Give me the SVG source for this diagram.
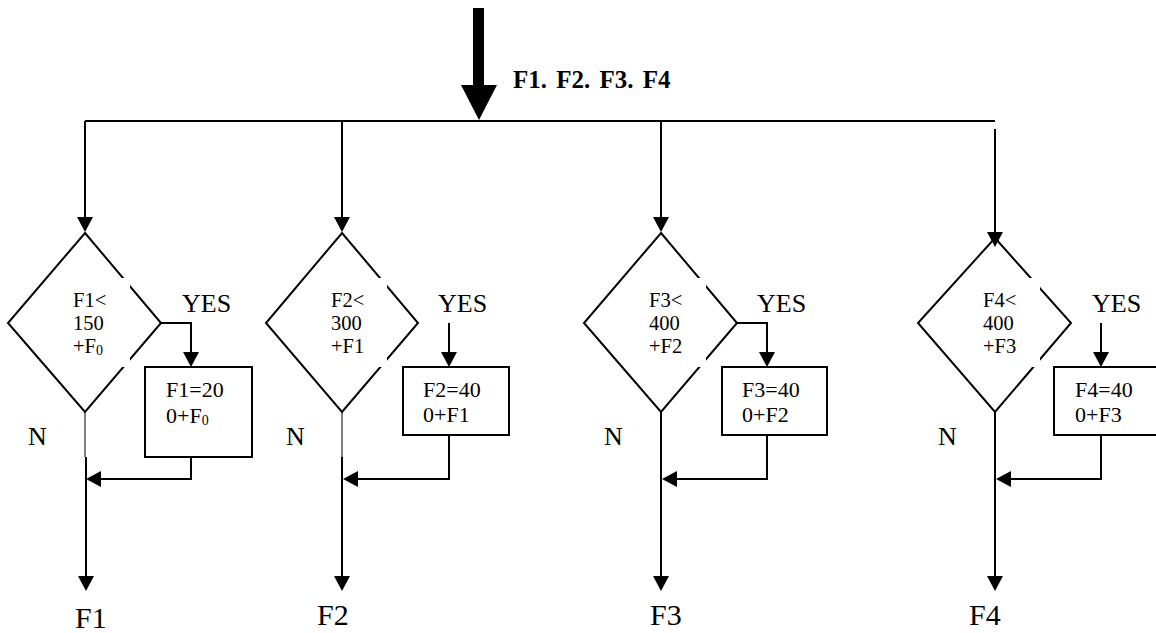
<svg xmlns="http://www.w3.org/2000/svg" width="1156" height="633" viewBox="0 0 1156 633">
  <style>
    .ln { fill: none; stroke: #000; stroke-width: 2; }
    .thin { fill: none; stroke: #000; stroke-width: 1; }
    .arr { marker-end: url(#head); }
    .shape { fill: #fff; stroke: #000; stroke-width: 2; }
    .mask { fill: #fff; stroke: none; }
    text { font-family: "Liberation Serif", "Times New Roman", serif; fill: #000; }
    .cond { font-size: 20.5px; }
    .box { font-size: 22px; }
    .lbl { font-size: 26px; }
    .out { font-size: 30px; }
    .title { font-size: 25px; font-weight: bold; word-spacing: 3px; }
  </style>
  <defs>
    <marker id="head" markerUnits="userSpaceOnUse" viewBox="0 0 15 16" markerWidth="15" markerHeight="16" refX="13" refY="8" orient="auto">
      <path d="M0,0 L15,8 L0,16 z" fill="#000"/>
    </marker>
  </defs>

  <rect width="1156" height="633" fill="#fff"/>

  <!-- input arrow and label -->
  <g id="input">
    <polygon points="473,8 484,8 484,85 497,85 479,120 461,85 473,85" fill="#000"/>
    <text class="title" x="513" y="88">F1. F2. F3. F4</text>
  </g>

  <!-- decision diamonds (white text panel trims the right edges) -->
  <g id="dec1">
    <polygon class="shape" points="85,233 161,323 85,412 8,323"/>
    <rect class="mask" x="60" y="278" width="70" height="89"/>
    <text class="cond" x="73" y="307">F1&lt;<tspan x="73" dy="23">150</tspan><tspan x="73" dy="23">+F</tspan><tspan font-size="14" dy="2">0</tspan></text>
  </g>
  <g id="dec2">
    <polygon class="shape" points="342,233 418,323 342,412 266,323"/>
    <rect class="mask" x="317" y="278" width="70" height="89"/>
    <text class="cond" x="331" y="307">F2&lt;<tspan x="331" dy="23">300</tspan><tspan x="331" dy="23">+F1</tspan></text>
  </g>
  <g id="dec3">
    <polygon class="shape" points="661,233 737,323 661,412 584,323"/>
    <rect class="mask" x="636" y="278" width="70" height="89"/>
    <text class="cond" x="649" y="307">F3&lt;<tspan x="649" dy="23">400</tspan><tspan x="649" dy="23">+F2</tspan></text>
  </g>
  <g id="dec4">
    <polygon class="shape" points="995,238 1071,323 995,412 918,323"/>
    <rect class="mask" x="970" y="278" width="70" height="89"/>
    <text class="cond" x="983" y="307">F4&lt;<tspan x="983" dy="23">400</tspan><tspan x="983" dy="23">+F3</tspan></text>
  </g>

  <!-- assignment boxes -->
  <g id="box1">
    <rect class="shape" x="145" y="367" width="107" height="90"/>
    <text class="box" x="166" y="397">F1=20<tspan x="166" dy="26">0+F</tspan><tspan font-size="14" dy="2">0</tspan></text>
  </g>
  <g id="box2">
    <rect class="shape" x="403" y="367" width="106" height="68"/>
    <text class="box" x="423" y="397">F2=40<tspan x="423" dy="25">0+F1</tspan></text>
  </g>
  <g id="box3">
    <rect class="shape" x="722" y="367" width="105" height="68"/>
    <text class="box" x="742" y="397">F3=40<tspan x="742" dy="25">0+F2</tspan></text>
  </g>
  <g id="box4">
    <rect class="shape" x="1054" y="367" width="110" height="68"/>
    <text class="box" x="1075" y="397">F4=40<tspan x="1075" dy="25">0+F3</tspan></text>
  </g>

  <!-- branch labels -->
  <g id="labels">
    <text class="lbl" x="182" y="312">YES</text>
    <text class="lbl" x="438" y="312">YES</text>
    <text class="lbl" x="757" y="312">YES</text>
    <text class="lbl" x="1092" y="312">YES</text>
    <text class="lbl" x="28" y="445">N</text>
    <text class="lbl" x="286" y="445">N</text>
    <text class="lbl" x="604" y="445">N</text>
    <text class="lbl" x="938" y="445">N</text>
  </g>

  <!-- outputs -->
  <g id="outputs">
    <text class="out" x="75" y="628">F1</text>
    <text class="out" x="317" y="625">F2</text>
    <text class="out" x="650" y="625">F3</text>
    <text class="out" x="969" y="625">F4</text>
  </g>

  <!-- connectors -->
  <g id="connectors">
    <!-- distribution bus -->
    <path class="ln" d="M85,121 H995"/>
    <path class="ln arr" d="M85,121 V230"/>
    <path class="ln arr" d="M342,121 V230"/>
    <path class="ln arr" d="M661,121 V230"/>
    <path class="ln arr" d="M995,129 V245"/>

    <!-- YES paths -->
    <path class="ln arr" d="M160,323 H191 V365"/>
    <path class="ln arr" d="M449,323 V365"/>
    <path class="ln arr" d="M736,323 H767 V365"/>
    <path class="ln arr" d="M1101,323 V365"/>

    <!-- returns from boxes -->
    <path class="ln arr" d="M191,457 V479 H88"/>
    <path class="ln arr" d="M449,435 V479 H345"/>
    <path class="ln arr" d="M767,435 V479 H664"/>
    <path class="ln arr" d="M1101,435 V479 H998"/>

    <!-- N paths to outputs -->
    <path class="thin" d="M85,412 V457"/>
    <path class="ln arr" d="M86,457 V589"/>
    <path class="thin" d="M342,412 V457"/>
    <path class="ln arr" d="M342,457 V589"/>
    <path class="ln arr" d="M661,412 V589"/>
    <path class="ln arr" d="M995,412 V589"/>
  </g>
</svg>
